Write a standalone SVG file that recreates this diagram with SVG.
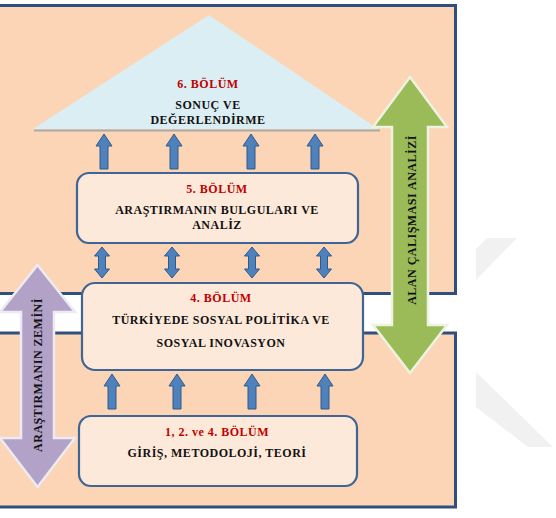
<svg xmlns="http://www.w3.org/2000/svg" xmlns:xlink="http://www.w3.org/1999/xlink" width="556" height="518" viewBox="0 0 556 518">
<style>
.panel{fill:#fbd5b5;stroke:#2f4f7f;stroke-width:3}
.box{fill:#fde9d9;stroke:#3f6596;stroke-width:2.2}
.blue{fill:#4f81bd;stroke:#2f5a8c;stroke-width:1}
text{font-family:'Liberation Serif','DejaVu Serif',serif;font-weight:bold;font-size:12px;letter-spacing:0.5px;text-anchor:middle;fill:#111}
.r{fill:#c00000}
.wm{fill:#f1f1f1}
</style>
<defs>
<path id="up" d="M0,0 L8,12 L4,12 L4,35 L-4,35 L-4,12 L-8,12 Z"/>
<path id="dbl" d="M0,0 L7.5,9 L3.5,9 L3.5,22 L7.5,22 L0,31 L-7.5,22 L-3.5,22 L-3.5,9 L-7.5,9 Z"/>
</defs>
<rect width="556" height="518" fill="#ffffff"/>
<g id="watermark">
<polygon class="wm" points="487,238 517,238 476,280 476,249"/>
<polygon class="wm" points="476,372 553,447 528,447 476,407"/>
</g>
<g id="panels">
<rect class="panel" x="-5" y="5.5" width="460.5" height="288"/>
<rect class="panel" x="-5" y="333" width="460.5" height="174"/>
</g>
<g id="roof">
<line x1="34" y1="130.5" x2="380" y2="130.5" stroke="#a9a9a9" stroke-width="2"/>
<polygon points="209,15 378,129 33,129" fill="#dbeef4"/>
<text class="r" x="208" y="88">6. BÖLÜM</text>
<text x="208" y="109">SONUÇ VE</text>
<text x="208" y="124">DEĞERLENDİRME</text>
</g>
<g id="alan-calismasi">
<polygon points="410,77 447,127 428,127 428,325 447,325 410,373 373,325 392,325 392,127 373,127" fill="#9bbb59" stroke="#eef2e0" stroke-width="2.5"/>
<text transform="translate(416,220) rotate(-90)">ALAN ÇALIŞMASI ANALİZİ</text>
</g>
<g id="arastirmanin-zemini">
<polygon points="37.5,265 75,312 54,312 54,438 75,438 37.5,487 0,438 21,438 21,312 0,312" fill="#b3a2c7" stroke="#eeeaf2" stroke-width="2.5"/>
<text transform="translate(42,375) rotate(-90)">ARAŞTIRMANIN ZEMİNİ</text>
</g>
<g id="connectors">
<use href="#up" class="blue" x="104" y="134"/>
<use href="#up" class="blue" x="174" y="134"/>
<use href="#up" class="blue" x="251" y="134"/>
<use href="#up" class="blue" x="315" y="134"/>
<use href="#dbl" class="blue" x="102" y="247"/>
<use href="#dbl" class="blue" x="172" y="247"/>
<use href="#dbl" class="blue" x="252" y="247"/>
<use href="#dbl" class="blue" x="324" y="247"/>
<use href="#up" class="blue" x="112" y="374"/>
<use href="#up" class="blue" x="177" y="374"/>
<use href="#up" class="blue" x="252" y="374"/>
<use href="#up" class="blue" x="325" y="374"/>
</g>
<g id="bolum5">
<rect class="box" x="77" y="173" width="281" height="70" rx="12"/>
<text class="r" x="217" y="193">5. BÖLÜM</text>
<text x="217" y="214">ARAŞTIRMANIN BULGULARI VE</text>
<text x="217" y="229">ANALİZ</text>
</g>
<g id="bolum4">
<rect class="box" x="82" y="283" width="281" height="87" rx="13"/>
<text class="r" x="221" y="302">4. BÖLÜM</text>
<text x="221" y="324">TÜRKİYEDE SOSYAL POLİTİKA VE</text>
<text x="221" y="347">SOSYAL INOVASYON</text>
</g>
<g id="bolum124">
<rect class="box" x="79" y="416" width="278" height="70" rx="12"/>
<text class="r" x="217" y="436">1, 2. ve 4. BÖLÜM</text>
<text x="217" y="457">GİRİŞ, METODOLOJİ, TEORİ</text>
</g>
</svg>
